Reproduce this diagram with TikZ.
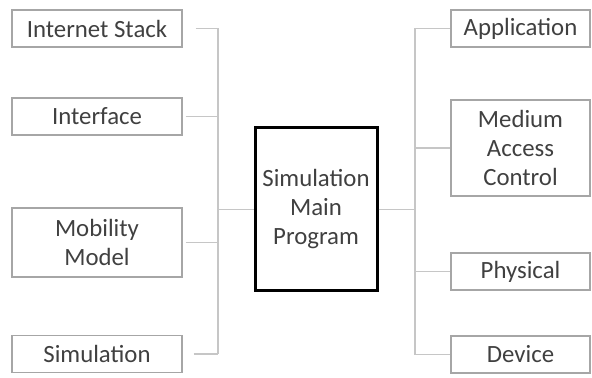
\documentclass[tikz,border=0pt]{standalone}
\usepackage{fontspec}
\setmainfont{Carlito}
\begin{document}
\begin{tikzpicture}[
        x=0.5pt, y=-0.5pt,
        layer/.style={draw=gray!70, line width=0.6pt, align=center,
            text=black!75, font=\fontsize{12.4}{14.5}\selectfont,
            inner sep=0pt, minimum height=18.5pt},
        leftlayer/.style={layer, minimum width=85pt},
        rightlayer/.style={layer, minimum width=69.5pt},
        mainprog/.style={draw=black, line width=1.5pt, align=center,
            text=black!75, font=\fontsize{12.4}{14.5}\selectfont,
            minimum width=61pt, minimum height=81.5pt},
        link/.style={draw=gray!45, line width=0.6pt}
    ]
        \useasboundingbox (0,0) rectangle (592,378);
        \node[leftlayer] (inet) at (97,28.5) {Internet Stack};
        \node[leftlayer] (iface) at (97,116.5) {Interface};
        \node[leftlayer, minimum height=34.5pt] (mobil) at (97,242.5) {Mobility\\Model};
        \node[leftlayer] (simul) at (97,354) {Simulation};
        \node[mainprog] (main) at (316,209.5) {Simulation\\Main\\Program};
        \node[rightlayer] (app) at (520.5,28.5) {Application};
        \node[rightlayer, minimum height=48pt] (mac) at (520.5,148) {Medium\\Access\\Control};
        \node[rightlayer] (phys) at (520.5,271.5) {Physical};
        \node[rightlayer] (dev) at (520.5,354.5) {Device};
        \coordinate (lbus) at (218,0);
        \coordinate (rbus) at (415,0);
        % left bus
        \draw[link] (inet -| lbus) -- (simul -| lbus);
        \draw[link] (inet.east) ++(13,0) -- (inet -| lbus);
        \draw[link] (iface.east) ++(3,0) -- (iface -| lbus);
        \draw[link] (mobil.east) ++(3,0) -- (mobil -| lbus);
        \draw[link] (simul.east) ++(11,0) -- (simul -| lbus);
        \draw[link] (main.west) -- (main -| lbus);
        % right bus
        \draw[link] (main.east) -- (main -| rbus);
        \draw[link] (app -| rbus) -- (dev -| rbus);
        \draw[link] (rbus |- app) -- (app.west);
        \draw[link] (rbus |- mac) -- (mac.west);
        \draw[link] (rbus |- phys) -- (phys.west);
        \draw[link] (rbus |- dev) -- (dev.west);
    \end{tikzpicture}
\end{document}
